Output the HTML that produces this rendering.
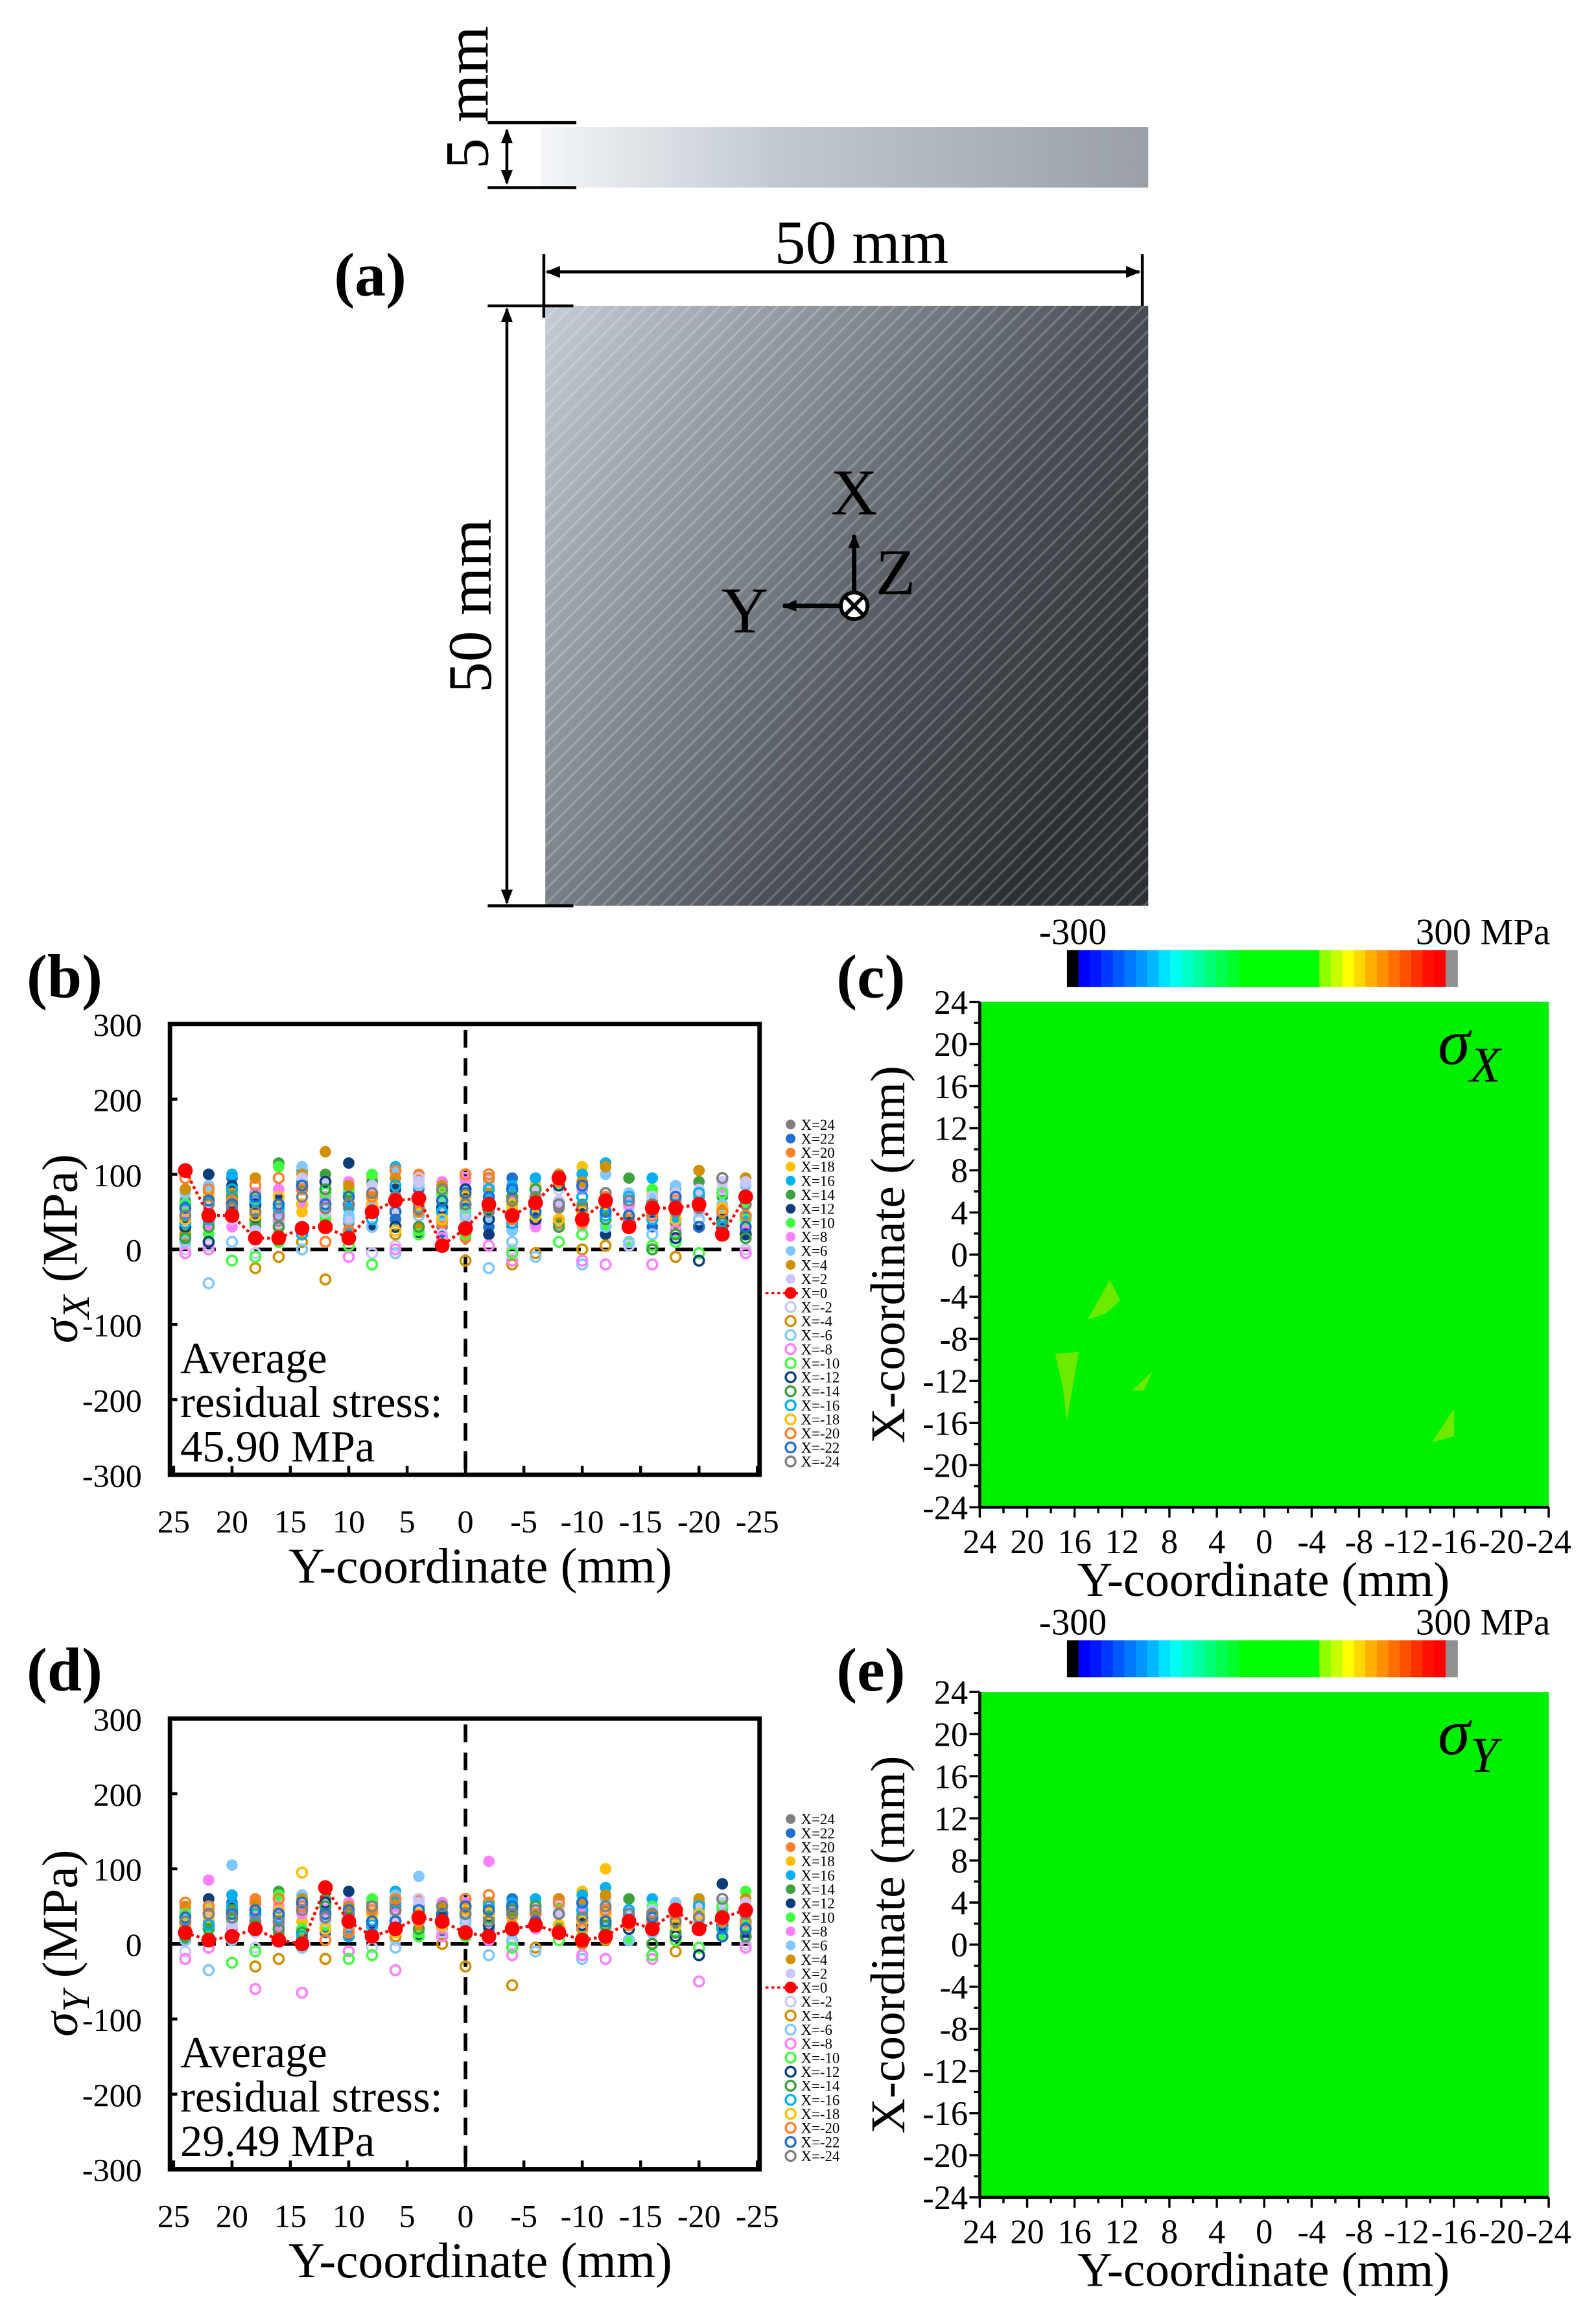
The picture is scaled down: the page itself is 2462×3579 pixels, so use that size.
<!DOCTYPE html>
<html><head><meta charset="utf-8"><style>
html,body{margin:0;padding:0;background:#fff}
svg{display:block}
text{font-family:"Liberation Serif","Times New Roman",serif;fill:#000}
</style></head><body>
<svg id="fig" width="2462" height="3579" viewBox="0 0 1080 1570" xmlns="http://www.w3.org/2000/svg">
<defs>
<linearGradient id="metal" x1="0" y1="0" x2="1" y2="0.6">
<stop offset="0" stop-color="#c4ccd4"/><stop offset="0.35" stop-color="#8a9298"/><stop offset="0.7" stop-color="#4a5056"/><stop offset="1" stop-color="#2c3034"/></linearGradient>
<pattern id="streaks" width="7" height="7" patternUnits="userSpaceOnUse" patternTransform="rotate(-45)">
<rect width="7" height="1.5" fill="rgba(255,255,255,0.2)"/></pattern>
<linearGradient id="side" x1="0" x2="1"><stop offset="0" stop-color="#f4f6f8"/><stop offset="0.4" stop-color="#c0c8d0"/><stop offset="1" stop-color="#9aa0a6"/></linearGradient>
<marker id="ah" markerWidth="10" markerHeight="10" refX="9" refY="5" orient="auto-start-reverse" markerUnits="userSpaceOnUse"><path d="M0,1 L10,5 L0,9 Z" fill="#000"/></marker>
</defs>

<g>
<rect x="366" y="86" width="411" height="41" fill="url(#side)"/>
<line x1="330" y1="83" x2="390" y2="83" stroke="#000" stroke-width="2"/>
<line x1="330" y1="127" x2="390" y2="127" stroke="#000" stroke-width="2"/>
<line x1="343" y1="88" x2="343" y2="124" stroke="#000" stroke-width="2" marker-start="url(#ah)" marker-end="url(#ah)"/>
<text transform="translate(330,66) rotate(-90)" font-size="42" text-anchor="middle">5 mm</text>
<text x="226" y="200" font-size="42" font-weight="bold">(a)</text>
<text x="583" y="178" font-size="42" text-anchor="middle">50 mm</text>
<line x1="368" y1="172" x2="368" y2="215" stroke="#000" stroke-width="2"/>
<line x1="773" y1="172" x2="773" y2="240" stroke="#000" stroke-width="2"/>
<line x1="370" y1="184" x2="771" y2="184" stroke="#000" stroke-width="2" marker-start="url(#ah)" marker-end="url(#ah)"/>
<rect x="369" y="207" width="408" height="406" fill="url(#metal)"/>
<rect x="369" y="207" width="408" height="406" fill="url(#streaks)"/>
<line x1="330" y1="207" x2="388" y2="207" stroke="#000" stroke-width="2"/>
<line x1="330" y1="613" x2="388" y2="613" stroke="#000" stroke-width="2"/>
<line x1="343" y1="209" x2="343" y2="611" stroke="#000" stroke-width="2" marker-start="url(#ah)" marker-end="url(#ah)"/>
<text transform="translate(332,410) rotate(-90)" font-size="42" text-anchor="middle">50 mm</text>
<line x1="578" y1="400" x2="578" y2="362" stroke="#000" stroke-width="3" marker-end="url(#ah)"/>
<line x1="570" y1="410" x2="530" y2="410" stroke="#000" stroke-width="3" marker-end="url(#ah)"/>
<circle cx="578" cy="410" r="9" fill="#fff" stroke="#000" stroke-width="2.5"/>
<line x1="572" y1="404" x2="584" y2="416" stroke="#000" stroke-width="2.5"/><line x1="584" y1="404" x2="572" y2="416" stroke="#000" stroke-width="2.5"/>
<text x="578" y="348" font-size="44" text-anchor="middle">X</text>
<text x="504" y="428" font-size="44" text-anchor="middle">Y</text>
<text x="606" y="402" font-size="44" text-anchor="middle">Z</text>
</g>

<text x="18" y="675" font-size="42" font-weight="bold">(b)</text>
<text x="18" y="1144" font-size="42" font-weight="bold">(d)</text>
<text x="566" y="675" font-size="42" font-weight="bold">(c)</text>
<text x="566" y="1144" font-size="42" font-weight="bold">(e)</text>
<g id="plots"></g>
</svg>
<script>
const yCoords=[24,22,20,18,16,14,12,10,8,6,4,2,0,-2,-4,-6,-8,-10,-12,-14,-16,-18,-20,-22,-24];
const seriesNames=["X=24","X=22","X=20","X=18","X=16","X=14","X=12","X=10","X=8","X=6","X=4","X=2","X=0","X=-2","X=-4","X=-6","X=-8","X=-10","X=-12","X=-14","X=-16","X=-18","X=-20","X=-22","X=-24"];
const seriesColors=["#808080","#1f6fd0","#ff7f2a","#ffc000","#00b0f0","#3fa040","#0a3d7a","#40ff40","#ff80ff","#80c8ff","#d09000","#c8c8ff","#ff0000","#c8c8ff","#d09000","#80c8ff","#ff80ff","#40ff40","#0a3d7a","#3fa040","#00b0f0","#ffc000","#ff7f2a","#1f6fd0","#808080"];
const yTicks=[300,200,100,0,-100,-200,-300];
const xTicks=[25,20,15,10,5,0,-5,-10,-15,-20,-25];
const mapTicks=[24,20,16,12,8,4,0,-4,-8,-12,-16,-20,-24];
const sxVals=[
[65,50,40,55,30,60,45,35,70,40,55,30,45,60,50,35,55,40,65,45,50,35,60,90,40],
[20,100,95,60,40,90,30,20,60,40,80,20,55,30,95,50,35,90,60,45,30,55,70,35,45],
[40,75,60,95,60,85,45,25,60,55,100,35,15,85,60,70,95,80,55,70,40,60,50,80,25],
[30,60,40,70,80,50,90,70,95,80,30,55,70,60,55,85,40,110,115,65,75,70,55,60,95],
[60,70,100,35,70,105,55,55,90,110,60,50,80,70,85,95,90,100,115,60,95,40,70,30,40],
[10,35,55,30,115,90,100,75,90,65,50,60,40,80,60,40,35,60,50,95,65,80,90,70,20],
[40,100,85,40,70,30,60,115,30,80,20,55,80,20,30,80,100,50,20,70,45,50,30,40,20],
[25,20,45,60,110,30,40,80,100,60,25,70,50,50,60,70,85,35,30,10,80,60,75,20,60],
[50,30,30,50,80,60,65,90,75,60,70,90,90,95,70,30,60,80,60,70,60,70,60,80,30],
[75,85,60,25,40,110,55,45,60,105,85,45,80,40,25,60,30,40,100,75,70,85,75,60,85],
[80,60,75,95,20,100,130,85,70,95,30,85,75,80,60,70,100,90,110,40,60,55,105,55,95],
[35,60,40,25,45,95,90,40,85,55,90,55,40,90,35,80,65,30,60,55,40,75,80,90,90],
[105,45,45,15,15,28,30,15,50,65,68,5,28,60,45,62,95,40,65,30,55,55,60,20,70],
[0,5,10,-5,35,0,50,40,-5,5,95,20,40,90,0,60,80,20,50,5,70,40,50,80,0],
[20,40,65,-25,-10,10,-40,60,30,20,50,5,-15,95,-20,-5,35,0,5,30,45,-10,40,35,45],
[10,-45,10,45,50,0,80,40,30,-5,45,60,45,-25,10,-10,40,-20,30,10,20,15,40,45,60],
[-5,0,70,75,40,60,70,-10,60,0,55,15,95,5,-15,40,30,-15,-20,60,-20,25,55,20,-5],
[60,30,-15,-10,10,20,75,5,-20,70,20,75,20,60,-5,80,10,20,60,40,5,10,-5,75,40],
[30,10,50,60,30,80,90,60,50,30,60,55,80,40,80,40,85,40,60,35,50,15,-15,40,20],
[15,30,70,40,30,20,80,60,60,50,30,40,60,55,70,80,30,50,40,45,0,20,60,35,15],
[35,40,80,65,55,20,60,20,40,85,60,50,60,80,35,50,60,70,45,70,40,60,75,30,45],
[40,70,60,45,70,60,30,70,60,25,60,40,70,60,60,45,40,50,60,40,60,40,60,55,60],
[95,80,65,85,95,80,10,25,70,105,50,65,100,100,40,60,90,35,70,40,45,65,60,50,45],
[55,65,60,70,60,85,60,70,50,50,70,65,75,70,80,50,60,85,50,45,55,70,30,20,30],
[45,60,55,50,45,70,55,60,75,70,55,80,60,50,65,70,60,55,75,65,60,50,55,95,60]];
const syVals=[
[40,30,20,35,15,30,25,20,45,30,40,20,30,45,35,25,40,30,50,35,40,25,45,30,20],
[10,60,55,40,20,50,15,10,40,25,50,10,35,20,60,30,20,55,40,30,20,35,45,25,30],
[25,45,40,60,35,50,30,15,40,35,60,20,10,50,40,45,60,50,35,45,25,40,35,50,15],
[20,35,25,45,50,30,55,45,60,50,20,35,45,40,35,55,25,70,100,40,45,45,35,40,60],
[35,45,65,20,45,65,35,35,55,70,40,30,50,45,55,60,55,65,75,40,60,25,45,20,25],
[5,20,35,20,70,55,60,45,55,40,30,40,25,50,40,25,20,40,30,60,40,50,55,45,10],
[25,60,50,25,45,20,40,70,20,50,10,35,50,10,20,50,60,30,10,45,30,30,20,80,10],
[15,10,30,40,65,20,25,50,60,40,15,45,30,30,40,45,55,20,20,5,50,40,45,10,70],
[30,85,20,35,50,40,40,55,45,40,45,55,55,110,45,20,40,50,40,45,40,45,40,50,20],
[45,50,105,15,25,65,35,30,40,65,90,30,50,25,15,40,20,25,60,45,45,55,45,40,55],
[50,40,45,55,10,60,75,50,45,60,20,50,45,50,40,45,60,55,65,25,40,35,60,35,60],
[20,40,25,15,30,55,55,25,50,35,55,35,25,55,20,50,40,20,40,35,25,45,50,55,55],
[15,5,10,20,5,0,75,30,10,20,35,30,15,10,20,25,15,5,10,30,20,45,20,35,45],
[-10,5,10,-5,25,0,30,25,-5,5,60,15,25,55,0,40,50,10,30,5,45,25,30,50,0],
[10,25,40,-30,-20,5,-20,40,20,10,30,0,-30,55,-55,-5,25,0,5,20,30,-10,25,20,30],
[5,-35,5,30,30,-5,50,25,20,-5,30,40,30,-15,5,-10,25,-20,20,5,15,10,25,30,40],
[-20,-5,45,-60,25,-65,45,-10,40,-35,35,10,60,5,-15,25,20,-15,-20,40,-20,15,-50,10,-5],
[40,20,-25,-10,5,15,50,-20,-15,45,10,50,10,40,-5,50,5,10,40,25,-15,5,-5,50,25],
[20,5,35,40,20,50,55,40,30,20,40,35,50,25,50,25,55,25,40,20,30,10,-15,25,10],
[10,20,45,25,20,15,50,40,40,30,20,25,40,35,45,50,20,30,25,30,0,15,40,20,10],
[20,25,50,40,35,10,40,10,25,55,40,30,40,50,20,30,40,45,30,45,25,40,50,20,30],
[25,45,40,30,45,95,20,45,40,15,40,25,45,40,40,30,25,30,40,25,40,25,40,35,40],
[55,50,40,55,60,50,5,15,45,60,30,40,60,65,25,40,55,20,45,25,30,40,35,30,30],
[35,40,40,45,40,55,40,45,30,30,45,40,50,45,50,30,40,55,30,30,35,45,20,10,20],
[30,40,35,30,30,45,35,40,50,45,35,50,40,30,40,45,40,35,50,40,40,30,35,60,40]];
const cbColors=["#000000","#0000ff","#0018ff","#0038ff","#0058ff","#0078ff","#0098ff","#00b8ff","#00e0ff","#00fff0","#00ffc8","#00ffa0","#00ff78","#00ff50","#00ff28","#00ff00","#00ff00","#00ff00","#00ff00","#00ff00","#00ff00","#00ff00","#90ff00","#c8ff00","#ffff00","#ffd800","#ffb000","#ff9000","#ff7000","#ff5000","#ff3000","#ff1000","#ff0000","#909090"];

const NS="http://www.w3.org/2000/svg";
const root=document.getElementById('plots');
function mk(tag,attrs,parent,txt){const e=document.createElementNS(NS,tag);for(const k in attrs)e.setAttribute(k,attrs[k]);if(txt!==undefined)e.textContent=txt;(parent||root).appendChild(e);return e;}

function scatter(top,vals,sym,avg){
  const L=115,R=514,T=top,B=top+305;
  const xs=v=>315-(v)*7.9;
  const ys=v=>T+(300-v)/600*(B-T);
  const g=mk('g',{});
  
  
  for(const t of yTicks){
    const tl=mk('text',{x:96,y:ys(t)+8,'font-size':22,'text-anchor':'end'},g,String(t));
    
    
    mk('line',{x1:L,x2:L+5,y1:ys(t),y2:ys(t),stroke:'#000','stroke-width':2},g);
  }
  for(const t of xTicks){
    const tl=mk('text',{x:xs(t),y:B+39,'font-size':22,'text-anchor':'middle'},g,String(t));
    
    
    mk('line',{x1:xs(t),x2:xs(t),y1:B,y2:B-6,stroke:'#000','stroke-width':2},g);
  }
  mk('line',{x1:315,x2:315,y1:T+4,y2:B,stroke:'#000','stroke-width':2.5,'stroke-dasharray':'12 7'},g);
  mk('line',{x1:L,x2:R,y1:ys(0),y2:ys(0),stroke:'#000','stroke-width':2.5,'stroke-dasharray':'12 7'},g);
  for(let s=0;s<vals.length;s++){
    if(s===12)continue;
    const open=s>12;
    for(let i=0;i<yCoords.length;i++){
      const c=mk('circle',{cx:xs(yCoords[i]),cy:ys(vals[s][i]),r:open?3.3:3.9,fill:open?'none':seriesColors[s],stroke:seriesColors[s],'stroke-width':open?1.6:0},g);
      
      
    }
  }
  const red=vals[12];
  let d='';
  for(let i=0;i<yCoords.length;i++){d+=(i?'L':'M')+xs(yCoords[i])+','+ys(red[i]);}
  const ln=mk('path',{d:d,fill:'none',stroke:'#ff0000','stroke-width':2,'stroke-dasharray':'2 2'},g);
  
  
  for(let i=0;i<yCoords.length;i++){
    const c=mk('circle',{cx:xs(yCoords[i]),cy:ys(red[i]),r:5,fill:'#ff0000'},g);
    
    
  }
  mk('rect',{x:L,y:T,width:R-L,height:B-T,fill:'none',stroke:'#000','stroke-width':3},g);
  const lines=['Average','residual stress:',avg+' MPa'];
  lines.forEach((s,k)=>{const t=mk('text',{x:122,y:T+236+k*30,'font-size':30},g,s);
    
    });
  const yl=mk('text',{transform:`translate(52,${T+152}) rotate(-90)`,'font-size':34,'text-anchor':'middle'},g);
  
  
  mk('tspan',{'font-style':'italic'},yl,'σ');
  mk('tspan',{'font-style':'italic','font-size':26,dy:8},yl,sym);
  mk('tspan',{dy:-8},yl,' (MPa)');
  const xt=mk('text',{x:325,y:B+73,'font-size':34,'text-anchor':'middle'},g,'Y-coordinate (mm)');
  
  
  for(let s=0;s<seriesNames.length;s++){
    const y=T+68+s*9.5;
    const open=s>12;
    const lg=mk('g',{},g);
    
    
    if(s===12)mk('line',{x1:518,x2:540,y1:y,y2:y,stroke:'#ff0000','stroke-width':1.5,'stroke-dasharray':'2 2'},lg);
    mk('circle',{cx:535,cy:y,r:s===12?4:3.3,fill:open?'none':seriesColors[s],stroke:seriesColors[s],'stroke-width':open?1.5:0},lg);
    mk('text',{x:542,y:y+3.5,'font-size':10,fill:'#444'},lg,seriesNames[s]);
  }
}
scatter(693,sxVals,'X','45.90');
scatter(1163,syVals,'Y','29.49');

function heat(top,sym,blobs){
  const L=663,R=1048,T=top,B=top+342;
  const g=mk('g',{});
  
  
  const cbT=T-35,cbL=722,cbR=986,n=cbColors.length,w=(cbR-cbL)/n;
  cbColors.forEach((c,i)=>{const r=mk('rect',{x:cbL+i*w,y:cbT,width:w+0.5,height:25,fill:c},g);
    
    });
  mk('text',{x:726,y:cbT-4,'font-size':25,'text-anchor':'middle'},g,'-300');
  mk('text',{x:958,y:cbT-4,'font-size':25},g,'300 MPa');
  const hm=mk('rect',{x:L,y:T,width:R-L,height:B-T,fill:'#00f000'},g);
  
  
  blobs.forEach(p=>{mk('polygon',{points:p,fill:'#90e800',opacity:0.75},g);});
  const xs=v=>L+(24-v)/48*(R-L), ys=v=>T+(24-v)/48*(B-T);
  mk('line',{x1:L,x2:L,y1:T,y2:B,stroke:'#000','stroke-width':2},g);
  mk('line',{x1:L,x2:R,y1:B,y2:B,stroke:'#000','stroke-width':2},g);
  for(let v=-24;v<=24;v+=2){
    const maj=v%4===0;
    mk('line',{x1:L-(maj?7:4),x2:L,y1:ys(v),y2:ys(v),stroke:'#000','stroke-width':1.5},g);
    mk('line',{x1:xs(v),x2:xs(v),y1:B,y2:B+(maj?7:4),stroke:'#000','stroke-width':1.5},g);
  }
  for(const t of mapTicks){
    const a=mk('text',{x:L-8,y:ys(t)+8,'font-size':23,'text-anchor':'end'},g,String(t));
    
    
    const b=mk('text',{x:xs(t),y:B+31,'font-size':23,'text-anchor':'middle'},g,String(t));
    
    
  }
  const yl=mk('text',{transform:`translate(612,${(T+B)/2}) rotate(-90)`,'font-size':33,'text-anchor':'middle'},g,'X-coordinate (mm)');
  
  
  const xl=mk('text',{x:855,y:B+60,'font-size':33,'text-anchor':'middle'},g,'Y-coordinate (mm)');
  
  
  const st=mk('text',{x:973,y:T+42,'font-size':44,'font-style':'italic'},g);
  
  
  mk('tspan',{},st,'σ');
  mk('tspan',{'font-size':34,dy:12},st,sym);
}
heat(678,'X',["751,866 758,880 748,889 736,893","714,916 730,915 726,938 722,961 719,938","766,941 780,928 774,941","969,976 984,953 984,972"]);
heat(1145,'Y',[]);
</script>
</body></html>
